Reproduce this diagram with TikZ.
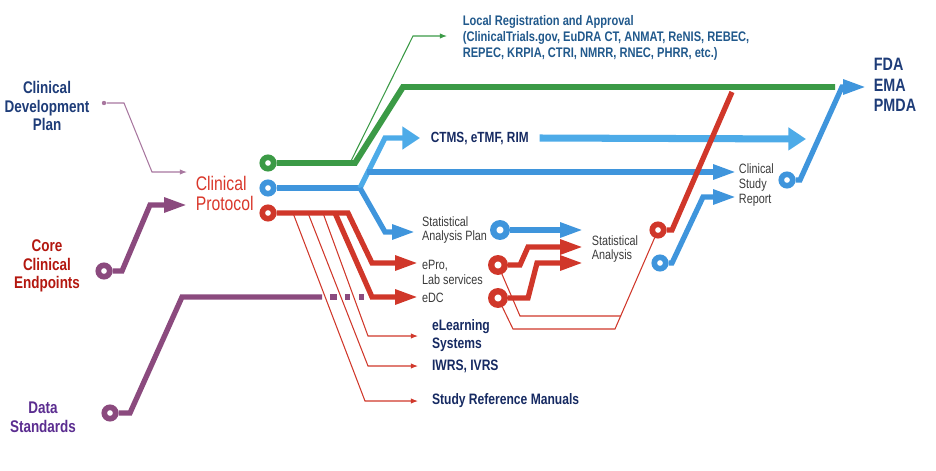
\documentclass[tikz,border=0pt]{standalone}
\usepackage{fontspec}
\setmainfont{Liberation Sans}[FakeStretch=0.8]
\usetikzlibrary{arrows.meta,calc}

\definecolor{trackgreen}{HTML}{3B9A46}
\definecolor{trackblue}{HTML}{3F95DC}
\definecolor{tracklight}{HTML}{4DABE8}
\definecolor{trackred}{HTML}{D0372A}
\definecolor{trackpurple}{HTML}{8B4A7E}
\definecolor{thinmauve}{HTML}{A8779F}
\definecolor{plannavy}{HTML}{1E3C78}
\definecolor{toolnavy}{HTML}{162A62}
\definecolor{coredark}{HTML}{B3170F}
\definecolor{dataviolet}{HTML}{5B2D90}
\definecolor{protored}{HTML}{D9372B}
\definecolor{regblue}{HTML}{21598C}
\definecolor{notegray}{HTML}{3A3A3A}

\begin{document}
\begin{tikzpicture}[
		x=0.02cm, y=-0.02cm,
		>=Latex,
		every node/.style={
			inner sep=0pt,
			align=left
		},
		port/.style={circle, draw=#1, fill=white, line width=3.2pt, minimum size=6.5pt, inner sep=0pt},
		bigport/.style={port=#1, line width=3.6pt, minimum size=7.7pt},
		track/.style={draw=#1, line width=3pt},
		trackarrow/.style={track=#1, -{Triangle[length=13pt,width=8pt]}},
		widearrow/.style={draw=tracklight, line width=4pt, -{Triangle[length=10pt,width=12.5pt]}},
		wire/.style={draw=#1, line width=0.6pt},
		wirearrow/.style={wire=#1, -{Latex[length=4pt,width=3pt]}},
		sourcetext/.style={font=\fontsize{9.6}{10.6}\selectfont\bfseries, align=center},
		tooltext/.style={anchor=west, text=toolnavy, font=\fontsize{8.6}{10.2}\selectfont\bfseries},
		notetext/.style={anchor=west, text=notegray, font=\fontsize{7.7}{8.5}\selectfont}
		]
		\useasboundingbox (0,0) rectangle (936,470);
		
		%--------------------------------------------------
		% Texts
		%--------------------------------------------------
		
		\node (cdp) [sourcetext, text=plannavy] at (47,106) {Clinical\\Development\\Plan};
		\node (endpoints) [sourcetext, text=coredark] at (47,266) {Core\\Clinical\\Endpoints};
		\node (standards) [sourcetext, text=dataviolet] at (43,417) {Data\\Standards};
		\node (protocol) [anchor=west, outer sep=5pt, text=protored, font=\fontsize{11.2}{11.4}\selectfont] at (187,193) {Clinical\\Protocol};
		
		\node (localreg) [anchor=west, outer sep=9pt, text=regblue, font=\fontsize{7.9}{9.1}\selectfont\bfseries] at (447,38)
		{Local Registration and Approval\\(ClinicalTrials.gov, EuDRA CT, ANMAT, ReNIS, REBEC,\\REPEC, KRPIA, CTRI, NMRR, RNEC, PHRR, etc.)};
		\node (ctms) [tooltext, outer sep=6.2pt, font=\fontsize{8.4}{10}\selectfont\bfseries] at (420,138) {CTMS, eTMF, RIM};
		\node (fda) [anchor=west, outer sep=4.5pt, text=plannavy, font=\fontsize{10.2}{11.6}\selectfont\bfseries] at (866,85) {FDA\\EMA\\PMDA};
		
		\node (sap) [notetext, outer sep=4pt] at (415,230) {Statistical\\Analysis Plan};
		\node (epro) [notetext, outer sep=2.3pt] at (418,272) {ePro,\\Lab services};
		\node (edc) [notetext, outer sep=2.3pt] at (418,298) {eDC};
		\node (stats) [notetext, outer sep=5pt] at (583,249) {Statistical\\Analysis};
		\node (csr) [notetext, outer sep=1.7pt] at (736,185) {Clinical\\Study\\Report};
		
		\node (elearn) [tooltext, outer sep=8pt] at (418,336) {eLearning\\Systems};
		\node (iwrs) [tooltext, outer sep=8pt] at (418,366) {IWRS, IVRS};
		\node (manuals) [tooltext, outer sep=8pt] at (418,401) {Study Reference Manuals};
		
		%--------------------------------------------------
		% Terminals
		%--------------------------------------------------
		
		\node (tgreen) [port=trackgreen] at (268,163) {};
		\node (tblue) [port=trackblue] at (268,188) {};
		\node (tred) [port=trackred] at (268,213) {};
		\node (tcore) [port=trackpurple] at (104,271) {};
		\node (tdata) [port=trackpurple] at (110,413) {};
		\node (tsap) [bigport=trackblue] at (500,230) {};
		\node (tepro) [bigport=trackred] at (498,265) {};
		\node (tedc) [bigport=trackred] at (498,298) {};
		\node (tsared) [port=trackred] at (658,230) {};
		\node (tsablue) [port=trackblue] at (660,263) {};
		\node (tcsr) [port=trackblue] at (787,180) {};
		\node (tcdp) [circle, fill=thinmauve, minimum size=2.5pt] at (104,103) {};
		
		%--------------------------------------------------
		% Bends
		%--------------------------------------------------
		
		\coordinate (m1) at (124,103);
		\coordinate (m2) at (152,172);
		\coordinate (p1) at (122,271);
		\coordinate (p2) at (150,205);
		\coordinate (q1) at (130,413);
		\coordinate (q2) at (182,297);
		\coordinate (q3) at (322,297);
		\coordinate (q4) at (330,297);
		\coordinate (q5) at (364,297);
		\coordinate (g0) at (350,163);
		\coordinate (g1) at (355,163);
		\coordinate (g2) at (403,87);
		\coordinate (g3) at (835,87);
		\coordinate (l1) at (413,36);
		\coordinate (b1) at (360,188);
		\coordinate (b2) at (385,138);
		\coordinate (b3) at (367,172);
		\coordinate (b4) at (385,232);
		\coordinate (ctmsend) at (806,139);
		\coordinate (r1) at (348,213);
		\coordinate (r2) at (372,263);
		\coordinate (r3) at (335,213);
		\coordinate (r4) at (372,297);
		\coordinate (e1) at (520,265);
		\coordinate (e2) at (528,247);
		\coordinate (d1) at (528,298);
		\coordinate (d2) at (537,263);
		\coordinate (t1) at (520,316);
		\coordinate (t2) at (621,316);
		\coordinate (t3) at (513,329);
		\coordinate (t4) at (615,329);
		\coordinate (s1) at (672,230);
		\coordinate (s2) at (732,92);
		\coordinate (s3) at (672,263);
		\coordinate (s4) at (703,197);
		\coordinate (f1) at (800,180);
		\coordinate (f2) at (842,87);
		
		%--------------------------------------------------
		% Thin links
		%--------------------------------------------------
		
		\draw[wirearrow=thinmauve] (tcdp) -- (m1) -- (m2) -- (m2 -| protocol.west);
		\draw[wirearrow=trackgreen] (g0) -- (l1) -- (l1 -| localreg.west);
		
		\foreach \s/\c/\t in {293/365/manuals,308/368/iwrs,323/368/elearn}
		{
			\draw[wirearrow=trackred] (\s,213) -- (\c,0 |- \t.west) -- (\t.west);
		}
		
		\draw[wire=trackred] (tepro) -- (t1) -- (t2);
		\draw[wire=trackred] (tedc) -- (t3) -- (t4) -- (tsared);
		
		%--------------------------------------------------
		% Tracks
		%--------------------------------------------------
		
		\draw[trackarrow=trackpurple] (tcore) -- (p1) -- (p2) -- (p2 -| protocol.west);
		\draw[track=trackpurple] (tdata) -- (q1) -- (q2) -- (q3);
		\draw[track=trackpurple, dash pattern=on 4pt off 4.5pt on 2.8pt off 5.1pt on 2.8pt off 9pt] (q4) -- (q5);
		
		\draw[track=trackgreen, line width=3.4pt] (tgreen) -- (g1) -- (g2) -- (g3);
		
		\draw[track=trackblue] (tblue) -- (b1);
		\draw[widearrow, line width=3pt] (b1) -- (b2) -- (b2 -| ctms.west);
		\draw[trackarrow=trackblue] (b3) -- (b3 -| csr.west);
		\draw[trackarrow=trackblue] (b1) -- (b4) -- (b4 -| sap.west);
		\draw[widearrow] (ctms.east) -- (ctmsend);
		
		\draw[trackarrow=trackred] (tred) -- (r1) -- (r2) -- (r2 -| epro.west);
		\draw[trackarrow=trackred] (r3) -- (r4) -- (r4 -| edc.west);
		
		\draw[trackarrow=trackblue] (tsap) -- (tsap -| stats.west);
		\draw[trackarrow=trackred] (tepro) -- (e1) -- (e2) -- (e2 -| stats.west);
		\draw[trackarrow=trackred] (tedc) -- (d1) -- (d2) -- (d2 -| stats.west);
		
		\draw[trackarrow=trackblue] (tsablue) -- (s3) -- (s4) -- (s4 -| csr.west);
		\draw[trackarrow=trackblue] (tcsr) -- (f1) -- (f2) -- (f2 -| fda.west);
		\draw[track=trackred] (tsared) -- (s1) -- (s2);
		
	\end{tikzpicture}
\end{document}
